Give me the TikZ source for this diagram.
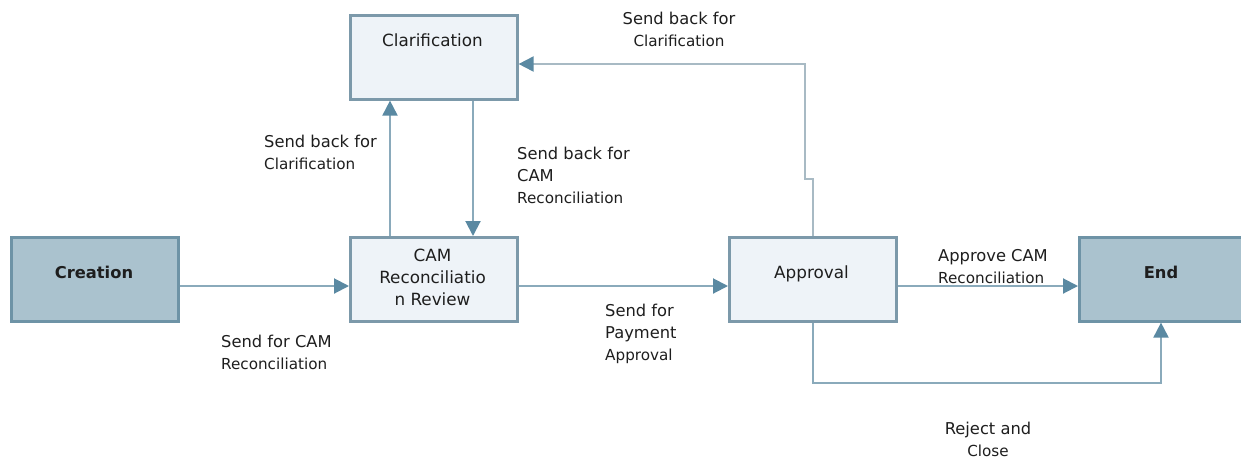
\documentclass[tikz,border=0pt]{standalone}
\usepackage{fontspec}
\setmainfont{DejaVu Sans}
\usetikzlibrary{arrows.meta}
\definecolor{darkfill}{HTML}{AAC2CE}
\definecolor{darkline}{HTML}{6E93A6}
\definecolor{lightfill}{HTML}{EEF3F8}
\definecolor{lightline}{HTML}{7C99AA}
\definecolor{conn}{HTML}{8AAABB}
\definecolor{tipc}{HTML}{5A89A2}
\definecolor{paleconn}{HTML}{A8BAC4}
\definecolor{txt}{HTML}{1E1E1E}
\begin{document}
\begin{tikzpicture}[x=1pt,y=-1pt,
  box/.style={draw, line width=2.6pt, minimum width=167pt, minimum height=84pt, inner sep=0pt, anchor=north west},
  darkbox/.style={box, fill=darkfill, draw=darkline},
  lightbox/.style={box, fill=lightfill, draw=lightline},
  boxtext/.style={font=\fontsize{16.8}{22}\selectfont, text=txt, inner sep=0pt, align=center},
  boldtext/.style={font=\bfseries\fontsize{16.3}{22}\selectfont, text=txt, inner sep=0pt},
  flow/.style={draw=conn, line width=2pt, -{Triangle[length=15pt,width=15pt,color=tipc]}},
  paleflow/.style={flow, draw=paleconn},
  lbl/.style={align=left, anchor=north west, inner sep=0pt, text=txt, font=\fontsize{16.3}{22}\selectfont},
  clbl/.style={lbl, align=center, anchor=north}
]
\useasboundingbox (0,0) rectangle (1241,459);
\clip (0,0) rectangle (1241,459);
\fill[white] (0,0) rectangle (1241,459);

% boxes
\node[darkbox]  (creation) at (10,236) {};
\node[lightbox] (review)   at (349,236) {};
\node[lightbox] (clar)     at (349,14) {};
\node[lightbox] (approval) at (728,236) {};
\node[darkbox]  (endbox)   at (1078,236) {};

% box texts
\node[boldtext, anchor=base] (creationT) at (94,278) {Creation};
\node[boldtext, anchor=base] (endT) at (1161,278) {End};
\node[boxtext, anchor=base] (approvalT) at (811.5,278) {Approval};
\node[boxtext, anchor=base] (clarT) at (432.5,46) {Clarification};
\node[boxtext, anchor=center] (reviewT) at (432.5,277) {CAM\\Reconciliatio\\n Review};

% helper coordinates
\coordinate (midrow) at (0,286);
\coordinate (botrow) at (0,383);
\coordinate (toprow) at (0,64);
\coordinate (jog) at (0,179);
\coordinate (jogx) at (805,0);
\coordinate (upx) at (390,0);
\coordinate (downx) at (473,0);
\coordinate (rightx) at (1161,0);

% connectors
\draw[flow] (creation.east |- midrow) -- (review.west |- midrow);
\draw[flow] (review.east |- midrow) -- (approval.west |- midrow);
\draw[flow] (approval.east |- midrow) -- (endbox.west |- midrow);
\draw[flow] (upx |- review.north) -- (upx |- clar.south);
\draw[flow] (downx |- clar.south) -- (downx |- review.north);
\draw[flow] (approval.south) -- (approval.south |- botrow) -- (rightx |- botrow) -- (rightx |- endbox.south);
\draw[paleflow] (approval.north) -- (approval.north |- jog) -- (jogx |- jog) -- (jogx |- toprow) -- (clar.east |- toprow);

% labels
\node[lbl] (l1) at (221,335) {Send for CAM\\{\fontsize{15.2}{22}\selectfont Reconciliation}};
\node[lbl] (l2) at (264,135) {Send back for\\{\fontsize{15.2}{22}\selectfont Clarification}};
\node[lbl] (l3) at (517,147) {Send back for\\CAM\\{\fontsize{15.2}{22}\selectfont Reconciliation}};
\node[clbl] (l4) at (679,12) {Send back for\\{\fontsize{15.2}{22}\selectfont Clarification}};
\node[lbl] (l5) at (605,304) {Send for\\Payment\\{\fontsize{15.2}{22}\selectfont Approval}};
\node[lbl] (l6) at (938,249) {Approve CAM\\{\fontsize{15.2}{22}\selectfont Reconciliation}};
\node[clbl] (l7) at (988,422) {Reject and\\{\fontsize{15.2}{22}\selectfont Close}};
\end{tikzpicture}
\end{document}
